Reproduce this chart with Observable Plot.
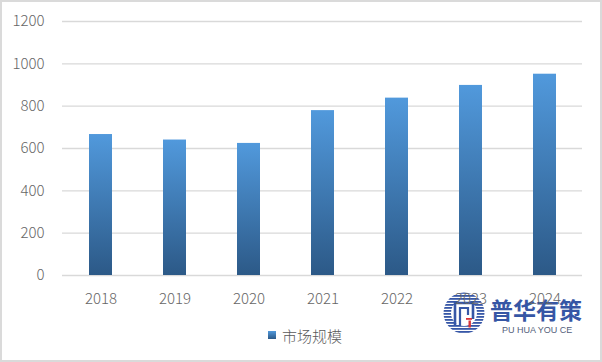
<!DOCTYPE html>
<html>
<head>
<meta charset="utf-8">
<script src="https://cdn.jsdelivr.net/npm/d3@7"></script>
<script src="https://cdn.jsdelivr.net/npm/@observablehq/plot@0.6"></script>
<style>
html, body { margin: 0; padding: 0; background: #fff; }
#wrap { position: relative; width: 602px; height: 362px; overflow: hidden; background: #fff;
  font-family: "Noto Sans CJK SC", "Noto Sans", sans-serif; }
#logo { position: absolute; left: 440px; top: 288px; }
#chart { position: absolute; left: 0; top: 0; }
#legend { position: absolute; left: 268px; top: 325px; height: 20px; display: flex; align-items: center;
  font-size: 15px; color: #595959; font-weight: 300; }
#legend .sw { width: 8px; height: 8px; margin-right: 6px; background: linear-gradient(#5199dc, #2c5987); }
#frame { position: absolute; left: 0; top: 0; width: 602px; height: 362px; box-sizing: border-box;
  border: 2px solid #dadada; pointer-events: none; }
</style>
</head>
<body>
<div id="wrap">
  <div id="logo"></div>
  <div id="chart"></div>
  <div id="legend"></div>
  <div id="frame"></div>
</div>
<script>
// ---- data ----
const years = ["2018", "2019", "2020", "2021", "2022", "2023", "2024"];
const values = [666, 640, 624, 779, 838, 898, 951];
const yTicks = [0, 200, 400, 600, 800, 1000, 1200];
const seriesName = "市场规模";
const brandName = "普华有策";
const brandSub = "PU HUA YOU CE";

const data = years.map((y, i) => ({year: y, value: values[i]}));

// gradient defs for bars
const defsMark = () => {
  const svg = d3.create("svg:g");
  const g = svg.append("defs").append("linearGradient")
    .attr("id", "barGrad").attr("x1", 0).attr("y1", 0).attr("x2", 0).attr("y2", 1);
  g.append("stop").attr("offset", "0%").attr("stop-color", "#5199dc");
  g.append("stop").attr("offset", "100%").attr("stop-color", "#2c5987");
  return svg.node();
};

const chart = Plot.plot({
  width: 602,
  height: 316,
  marginLeft: 62,
  marginRight: 20,
  marginTop: 21,
  marginBottom: 41,
  style: {fontFamily: '"Noto Sans CJK SC", "Noto Sans", sans-serif', fontSize: "15px", fontWeight: 300, color: "#666", background: "transparent"},
  x: {domain: years, paddingInner: 0.69, paddingOuter: 0.345, label: null},
  y: {domain: [0, 1200], label: null},
  marks: [
    defsMark,
    Plot.gridY(yTicks, {stroke: "#d9d9d9", strokeOpacity: 1, strokeWidth: 1.3}),
    Plot.barY(data, {x: "year", y: "value", fill: "url(#barGrad)"}),
    Plot.axisY(yTicks, {tickSize: 0, tickPadding: 18, fontSize: 15, label: null, tickFormat: d => String(d)}),
    Plot.axisX({tickSize: 0, tickPadding: 18, fontSize: 15, label: null})
  ]
});
document.getElementById("chart").appendChild(chart);

// legend
const lg = document.getElementById("legend");
const sw = document.createElement("span"); sw.className = "sw";
const lt = document.createElement("span"); lt.textContent = seriesName;
lg.appendChild(sw); lg.appendChild(lt);

// watermark logo
const logo = d3.select("#logo").append("svg").attr("width", 160).attr("height", 56).style("opacity", 0.95);
const ld = logo.append("defs");
ld.append("clipPath").attr("id", "logoClip").append("circle").attr("cx", 24).attr("cy", 25).attr("r", 20.5);
const stripes = logo.append("g").attr("clip-path", "url(#logoClip)");
for (let yy = 4; yy < 47; yy += 3) {
  stripes.append("rect").attr("x", 2).attr("y", yy).attr("width", 44).attr("height", 1.8).attr("fill", "#2d4fa3");
}
logo.append("circle").attr("cx", 24).attr("cy", 25).attr("r", 13).attr("fill", "#fff");
logo.append("path").attr("d", "M15,38 V15 H33 V31").attr("fill", "none").attr("stroke", "#2d4fa3").attr("stroke-width", 2.6);
logo.append("path").attr("d", "M20,38 V20 H28 V27").attr("fill", "none").attr("stroke", "#2d4fa3").attr("stroke-width", 2.2);
logo.append("rect").attr("x", 26).attr("y", 30).attr("width", 6).attr("height", 1.8).attr("fill", "#d7282f");
logo.append("rect").attr("x", 28.5).attr("y", 32.5).attr("width", 2.4).attr("height", 7).attr("fill", "#d7282f");
logo.append("text").attr("x", 50).attr("y", 31).attr("font-size", 23).attr("font-weight", 700)
  .attr("font-family", '"Noto Sans CJK SC", sans-serif').attr("fill", "#2c4ea1").text(brandName);
logo.append("text").attr("x", 62).attr("y", 45).attr("font-size", 9)
  .attr("font-family", '"Liberation Sans", Arial, sans-serif').attr("fill", "#4b5775")
  .text(brandSub);
</script>
</body>
</html>
